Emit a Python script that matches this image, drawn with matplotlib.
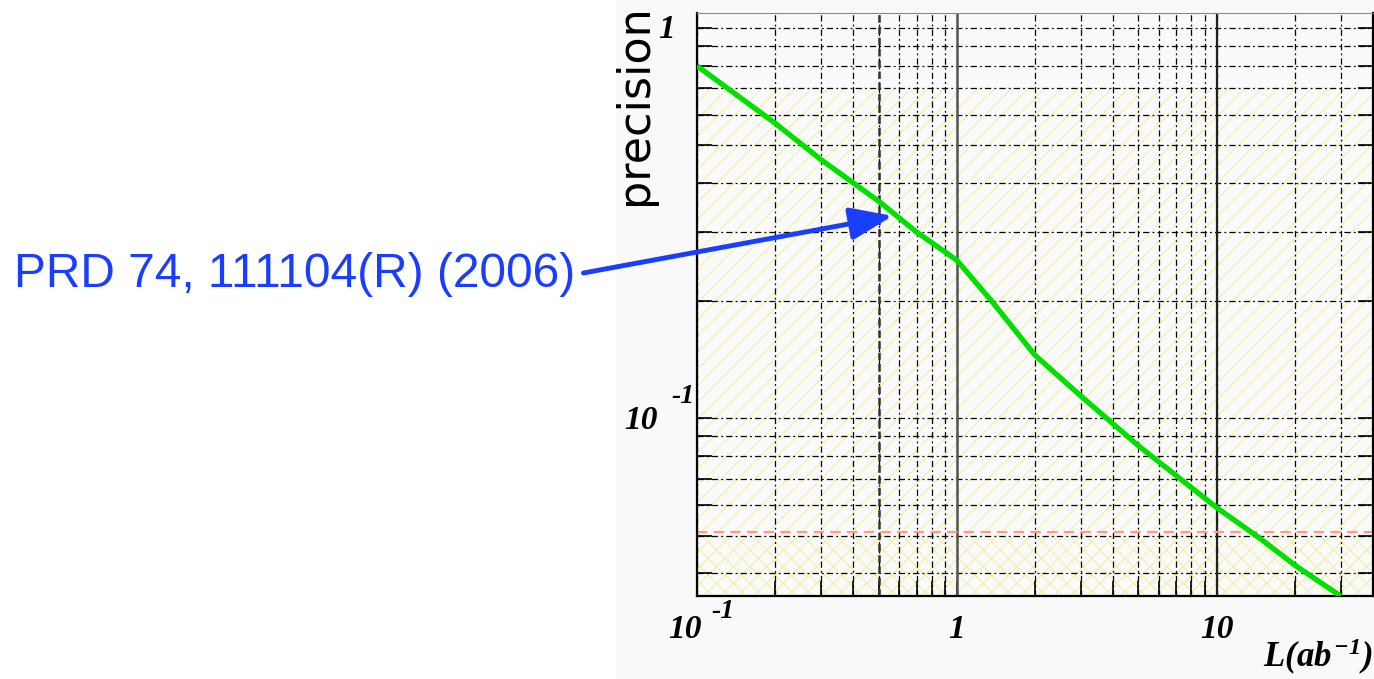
import numpy as np
import matplotlib
matplotlib.use('Agg')
import matplotlib.pyplot as plt
from matplotlib import transforms as mtrans
from matplotlib.patches import Rectangle

# precision vs integrated luminosity
lumi = [0.1, 0.2, 0.3, 0.5, 0.7, 1.0, 1.35, 2.0, 3.0, 5.0, 10.0, 14.5, 20.0, 30.0]
precision = [0.80, 0.57, 0.46, 0.36, 0.30, 0.254, 0.201, 0.145, 0.114, 0.085,
             0.059, 0.0495, 0.042, 0.035]

red_level = 0.051      # dashed red reference line
band_top = 0.7         # top of the "/" hatched band
cross_top = 0.05       # top of the cross hatched band
x_lim = (0.1, 40.0)
y_lim = (0.035, 1.093)

note_text = "PRD 74, 111104(R) (2006)"
note_at = (0.566, 0.33)

W, H = 1374, 679
blue = '#1a3dff'
hatch_col = '#f3efa2'

plt.rcParams['hatch.color'] = hatch_col
plt.rcParams['hatch.linewidth'] = 0.8
plt.rcParams['mathtext.fontset'] = 'custom'
plt.rcParams['mathtext.rm'] = 'Liberation Serif:bold:italic'
plt.rcParams['mathtext.it'] = 'Liberation Serif:bold:italic'
plt.rcParams['mathtext.bf'] = 'Liberation Serif:bold:italic'

fig = plt.figure(figsize=(W / 100, H / 100), dpi=100)
fig.patches.append(Rectangle((617 / W, 0), 1, 1, transform=fig.transFigure,
                             color='#f9f9f9', zorder=-5))

ax = fig.add_axes([697 / W, 1 - 596 / H, (1373 - 697) / W, 583 / H])
ax.set_facecolor('#fafafa')
ax.set_xscale('log')
ax.set_yscale('log')
ax.set_xlim(*x_lim)
ax.set_ylim(*y_lim)

# hatched bands
ax.axhspan(y_lim[0], band_top, fill=False, hatch='//', edgecolor=hatch_col, lw=0, zorder=1)
ax.axhspan(y_lim[0], cross_top, fill=False, hatch='\\\\', edgecolor=hatch_col, lw=0, zorder=1)

# grid, root style
ax.grid(True, which='both', color='k', lw=0.9, ls=(0, (5, 2.5, 1.5, 2.5)))
ax.axvline(1, color='#555555', lw=1.8, zorder=1.6)
ax.axvline(10, color='#222222', lw=1.6, zorder=1.6)
ax.axvline(0.5, color='#333333', lw=1.8, ls=(0, (3, 1.5)), zorder=1.6)

ax.axhline(red_level, color='#ff9a8a', lw=1.5, ls=(0, (5, 3)), zorder=2)
ax.plot(lumi, precision, color='#00e000', lw=3.8, zorder=3, solid_capstyle='butt')

ax.tick_params(which='both', direction='in', length=11, width=1.2,
               left=True, right=True, top=False, bottom=True,
               labelleft=False, labelbottom=False)
for s in ['left', 'bottom', 'right']:
    ax.spines[s].set_linewidth(1.6)
ax.spines['top'].set_color('#888888')

# tick labels placed like in the original (root style, bold italic serif)
bx = mtrans.blended_transform_factory(ax.transData, fig.transFigure)
by = mtrans.blended_transform_factory(fig.transFigure, ax.transData)
tk = dict(family='Liberation Serif', style='italic', weight='bold', color='black',
          ha='center', va='center')


def put(x, y, s, trans, dx=0, dy=0, size=24):
    ax.text(x, y, s, transform=mtrans.offset_copy(trans, fig=fig, x=dx, y=dy, units='dots'),
            fontsize=size, **tk)


put(0.1, 1 - 630 / H, '10', bx, dx=-12)
put(0.1, 1 - 611 / H, '-1', bx, dx=26, size=20)
put(1, 1 - 630 / H, '1', bx)
put(10, 1 - 630 / H, '10', bx)
put(641 / W, 0.1, '10', by, dy=-2)
put(683 / W, 0.1, '-1', by, dy=22, size=20)
put(667 / W, 1, '1', by, dy=-1)

fig.text(1372 / W, 1 - 667 / H, r'$L(ab^{-1})$', fontsize=25, ha='right', va='baseline')
fig.text(635 / W, 1 - 105 / H, 'precision', rotation=90, fontsize=32,
         family='DejaVu Sans', ha='center', va='center')

ax.annotate(note_text, xy=note_at, xycoords='data',
            xytext=(14, H - 287), textcoords='figure pixels',
            fontsize=34.5, family='Liberation Sans', color=blue,
            ha='left', va='baseline', annotation_clip=False,
            arrowprops=dict(arrowstyle='-|>,head_length=1.3,head_width=0.5',
                            color=blue, lw=3.5, mutation_scale=20,
                            shrinkA=4, shrinkB=0, relpos=(1, 0.5)))

fig.savefig('out.png', dpi=100)
